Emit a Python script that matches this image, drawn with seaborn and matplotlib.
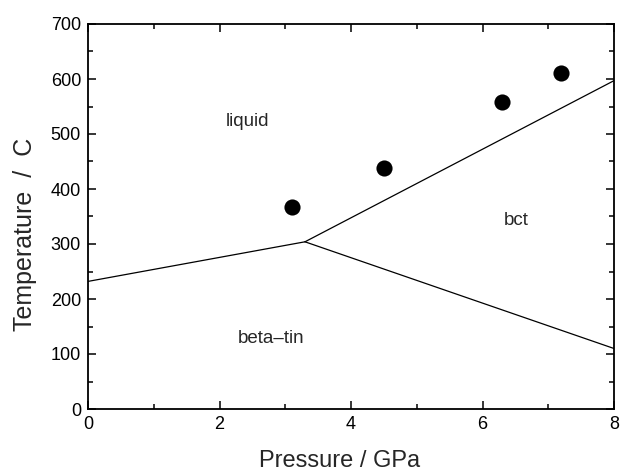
import matplotlib
matplotlib.use("Agg")
import matplotlib.pyplot as plt
import seaborn as sns
from matplotlib.ticker import MultipleLocator

# Phase boundaries
boundary_lb_x = [0.0, 3.3]          # liquid / beta-tin
boundary_lb_y = [232, 304]
boundary_lc_x = [3.3, 8.0]          # liquid / bct
boundary_lc_y = [304, 597]
boundary_bb_x = [3.3, 8.0]          # beta-tin / bct
boundary_bb_y = [304, 110]

# Measured points
pts_x = [3.1, 4.5, 6.3, 7.2]
pts_y = [367, 438, 559, 611]

region_labels = ["liquid", "bct", "beta\u2013tin"]
region_x = [2.42, 6.52, 2.78]
region_y = [522, 342, 129]

sns.set_theme(style="ticks")
plt.rcParams['font.family'] = ['Liberation Sans', 'DejaVu Sans']

fig = plt.figure(figsize=(6.21, 4.74), dpi=100)
ax = fig.add_axes([88/621, 1 - 409/474, 526/621, 385/474])

for bx, by in [(boundary_lb_x, boundary_lb_y), (boundary_lc_x, boundary_lc_y), (boundary_bb_x, boundary_bb_y)]:
    sns.lineplot(x=bx, y=by, ax=ax, color="black", linewidth=0.9, sort=False, estimator=None)

sns.scatterplot(x=pts_x, y=pts_y, ax=ax, color="black", s=135, edgecolor="black", linewidth=0, zorder=5)

for t, x, y in zip(region_labels, region_x, region_y):
    ax.text(x, y, t, ha="center", va="center", fontsize=13.5)

ax.set_xlim(0, 8)
ax.set_ylim(0, 700)
ax.xaxis.set_major_locator(MultipleLocator(2))
ax.xaxis.set_minor_locator(MultipleLocator(1))
ax.yaxis.set_major_locator(MultipleLocator(100))
ax.yaxis.set_minor_locator(MultipleLocator(50))
ax.tick_params(which="both", direction="in", top=True, right=True, width=1.1, color="black", labelsize=13, labelcolor="black")
ax.tick_params(which="major", length=6, pad=5)
ax.tick_params(which="minor", length=3.5)
for s in ax.spines.values():
    s.set_linewidth(1.3)
    s.set_color("black")
ax.set_xlabel("Pressure / GPa", fontsize=17)
ax.set_ylabel("Temperature  /  C", fontsize=18)
ax.xaxis.set_label_coords(0.478, -0.135)
ax.yaxis.set_label_coords(-0.12, 0.453)
ax.xaxis.label.set_va("center")
ax.yaxis.label.set_va("center")

fig.savefig("out.png", dpi=100)
